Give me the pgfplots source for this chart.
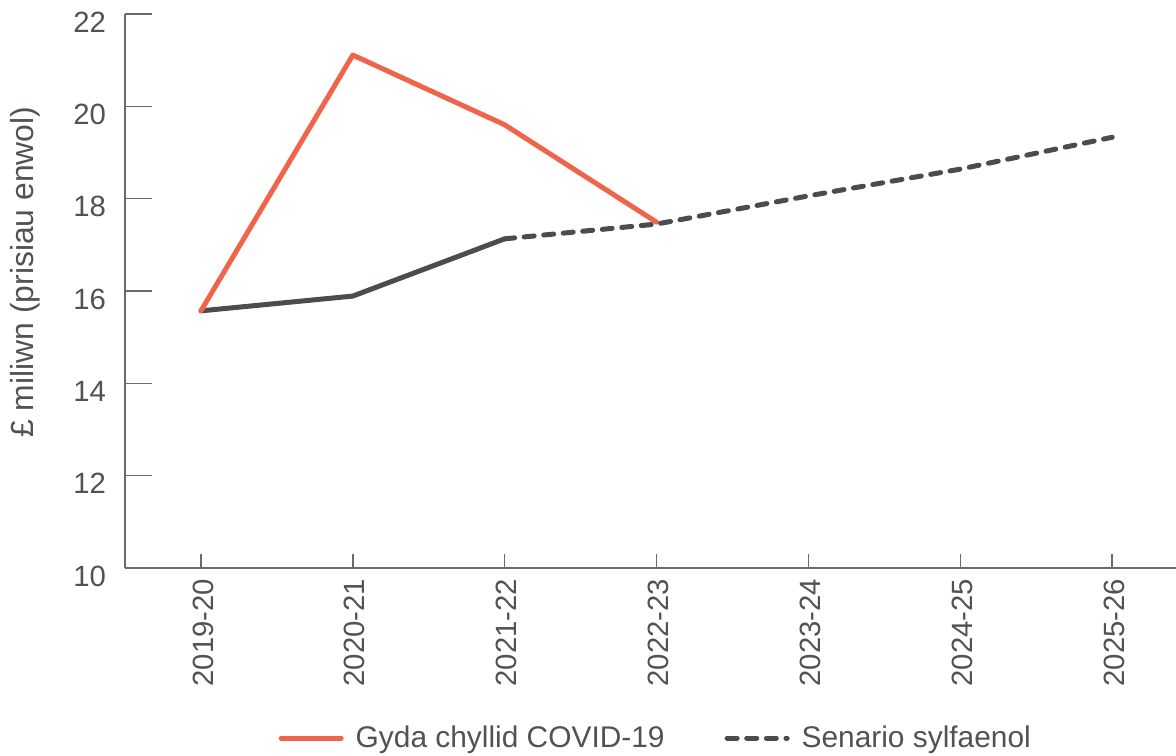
\documentclass[border=0pt]{standalone}
\usepackage{fontspec}
\setmainfont{Liberation Sans}
\usepackage{pgfplots}
\pgfplotsset{compat=1.18}
\definecolor{covred}{HTML}{F0644B}
\definecolor{basegray}{HTML}{4A4D50}
\definecolor{axisgray}{HTML}{6A6A6A}
\definecolor{txtgray}{HTML}{505356}

\begin{document}
\begin{tikzpicture}
\begin{axis}[
  scale only axis,
  width=525.5bp, height=277bp,
  xmin=-0.5, xmax=6.42,
  ymin=10, ymax=22,
  ytick={10,12,...,22},
  xtick={0,...,6},
  xticklabels={2019-20,2020-21,2021-22,2022-23,2023-24,2024-25,2025-26},
  axis lines=left,
  axis line style={draw=axisgray, line width=0.8bp, -},
  tick align=inside,
  major tick length=7bp,
  tick style={draw=axisgray, line width=0.8bp},
  ytick style={/pgfplots/major tick length=13.5bp},
  font=\fontsize{14.7}{17}\selectfont\color{txtgray},
  /pgf/number format/assume math mode=true,
  yticklabel style={anchor=east, xshift=-6bp, yshift=-4bp},
  xticklabel style={rotate=90, anchor=east, yshift=-1bp, xshift=-2bp},
  legend columns=2,
  legend style={at={(rel axis cs:0.506,-0.307)}, anchor=center, draw=none, fill=none,
    font=\fontsize{15}{17}\selectfont\color{txtgray},
    /tikz/every odd column/.append style={column sep=4bp},
    /tikz/every even column/.append style={column sep=28bp}},
  legend image code/.code={\draw[#1] (0bp,0bp) -- (30bp,0bp);},
  clip=false,
]
\addplot[basegray, line width=2.5bp, line join=round, line cap=round, forget plot]
  coordinates {(0,15.57)(1,15.89)(2,17.13)};
\addplot[covred, line width=2.5bp, line join=round, line cap=round]
  coordinates {(0,15.57)(1,21.11)(2,19.60)(3,17.49)};
\addlegendentry{Gyda chyllid COVID-19}
\addplot[basegray, line width=2.5bp, line cap=round, dash pattern=on 5bp off 4.8bp]
  coordinates {(2,17.13)(3,17.45)(4,18.06)(5,18.64)(6,19.33)};
\addlegendentry{Senario sylfaenol}
\node[rotate=90, anchor=center, font=\fontsize{16}{18}\selectfont, text=txtgray]
  at ([xshift=-50bp]rel axis cs:0,0.534) {£ miliwn (prisiau enwol)};
\coordinate (bl) at (rel axis cs:0,0);
\coordinate (tr) at (rel axis cs:1,1);
\end{axis}
\pgfresetboundingbox
\path ([xshift=-62.5bp,yshift=-94bp]bl) rectangle ([yshift=7bp]tr);
\end{tikzpicture}
\end{document}
